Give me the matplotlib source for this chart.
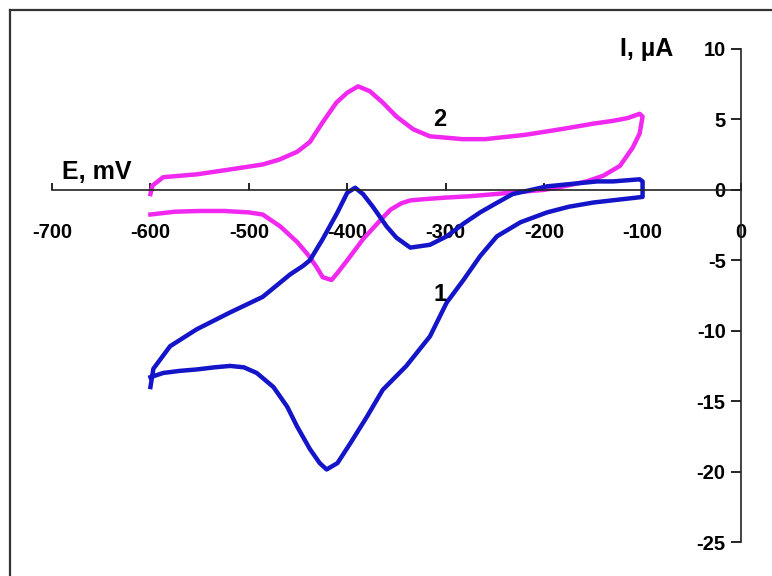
import matplotlib.pyplot as plt
from matplotlib.lines import Line2D

plt.rcParams['font.family'] = ['Liberation Sans', 'DejaVu Sans']
plt.rcParams['font.weight'] = 'bold'
plt.rcParams['axes.unicode_minus'] = False

# Кривая 2 (пурпурная): прямая ветвь -600 -> -100, затем обратная -100 -> -600
e2_fwd = [-600, -598, -587, -553, -519, -486, -469, -451, -438, -425, -411, -400,
          -389, -377, -364, -350, -333, -316, -299, -283, -260, -240, -220, -197,
          -175, -150, -130, -115, -103, -100]
i2_fwd = [-0.3, 0.3, 0.9, 1.1, 1.45, 1.8, 2.15, 2.7, 3.4, 4.8, 6.2, 6.9,
          7.35, 7.0, 6.2, 5.2, 4.3, 3.8, 3.7, 3.6, 3.6, 3.75, 3.9, 4.15,
          4.4, 4.7, 4.9, 5.1, 5.4, 5.2]
e2_rev = [-100, -103, -110, -123, -140, -157, -180, -200, -225, -250, -275, -300,
          -320, -336, -345, -356, -367, -384, -400, -410, -416, -425, -431, -440, -451,
          -468, -486, -500, -525, -550, -575, -600]
i2_rev = [5.2, 4.0, 3.0, 1.7, 1.0, 0.6, 0.25, 0.0, -0.15, -0.3, -0.45, -0.55,
          -0.65, -0.75, -0.95, -1.4, -2.2, -3.5, -5.0, -5.9, -6.4, -6.2, -5.5, -4.6, -3.7,
          -2.6, -1.75, -1.6, -1.5, -1.5, -1.55, -1.75]

# Кривая 1 (синяя)
e1_low = [-600, -587, -570, -553, -535, -519, -505, -492, -475, -461, -451, -438,
          -428, -421, -410, -397, -380, -364, -340, -316, -299, -282, -265, -248,
          -224, -197, -175, -150, -125, -106, -100]
i1_low = [-13.3, -13.0, -12.85, -12.75, -12.6, -12.5, -12.6, -13.0, -14.0, -15.4, -16.8, -18.4,
          -19.4, -19.85, -19.4, -18.0, -16.1, -14.2, -12.5, -10.4, -8.0, -6.4, -4.7, -3.3,
          -2.3, -1.6, -1.2, -0.9, -0.7, -0.55, -0.5]
e1_up = [-100, -100, -103, -130, -146, -197, -232, -250, -265, -282, -299, -316,
         -336, -350, -360, -374, -384, -392, -400, -410, -425, -438, -445, -458,
         -486, -519, -553, -580, -597, -600]
i1_up = [-0.5, 0.6, 0.75, 0.6, 0.6, 0.25, -0.3, -1.0, -1.6, -2.4, -3.3, -3.9,
         -4.1, -3.4, -2.6, -1.2, -0.3, 0.15, -0.2, -1.6, -3.5, -5.0, -5.4, -6.0,
         -7.6, -8.7, -9.9, -11.1, -12.7, -14.0]

x_ticks = [-700, -600, -500, -400, -300, -200, -100, 0]
y_ticks = [-25, -20, -15, -10, -5, 0, 5, 10]

blue = '#1414C8'
magenta = '#F028F0'

fig = plt.figure(figsize=(7.72, 5.76), dpi=100)
ax = fig.add_axes([52 / 772, 34 / 576, 689 / 772, 493 / 576])

ax.plot(e2_fwd + e2_rev, i2_fwd + i2_rev, color=magenta, lw=3.2, solid_joinstyle='round')
ax.plot(e1_low + e1_up, i1_low + i1_up, color=blue, lw=3.2, solid_joinstyle='round')

ax.set_xlim(-700, 0)
ax.set_ylim(-25, 10)
ax.spines['top'].set_visible(False)
ax.spines['right'].set_visible(False)
ax.spines['bottom'].set_position(('data', 0))
ax.spines['left'].set_position(('data', 0))
for s in ('bottom', 'left'):
    ax.spines[s].set_linewidth(1.2)
    ax.spines[s].set_color('#222222')

ax.set_xticks(x_ticks)
ax.set_yticks(y_ticks)
ax.tick_params(axis='x', direction='in', length=5, width=1.2, pad=24, labelsize=14.5)
ax.tick_params(axis='y', direction='out', length=7, width=1.2, pad=4, labelsize=14.5)
for lab in ax.get_xticklabels() + ax.get_yticklabels():
    lab.set_fontweight('bold')

ax.text(-690, 1.25, 'E, mV', fontsize=18, fontweight='bold', ha='left', va='center')
ax.text(-69, 10.0, 'I, µA', fontsize=18, fontweight='bold', ha='right', va='center')
ax.text(-306, -7.4, '1', fontsize=17, fontweight='bold', ha='center', va='center')
ax.text(-306, 5.0, '2', fontsize=17, fontweight='bold', ha='center', va='center')

# рамка слева и сверху
fig.add_artist(Line2D([10 / 772, 10 / 772], [0, 1 - 10 / 576], transform=fig.transFigure,
                      color='#333333', lw=1.6))
fig.add_artist(Line2D([10 / 772, 1], [1 - 10 / 576, 1 - 10 / 576], transform=fig.transFigure,
                      color='#333333', lw=1.6))

fig.savefig('out.png', dpi=100)
